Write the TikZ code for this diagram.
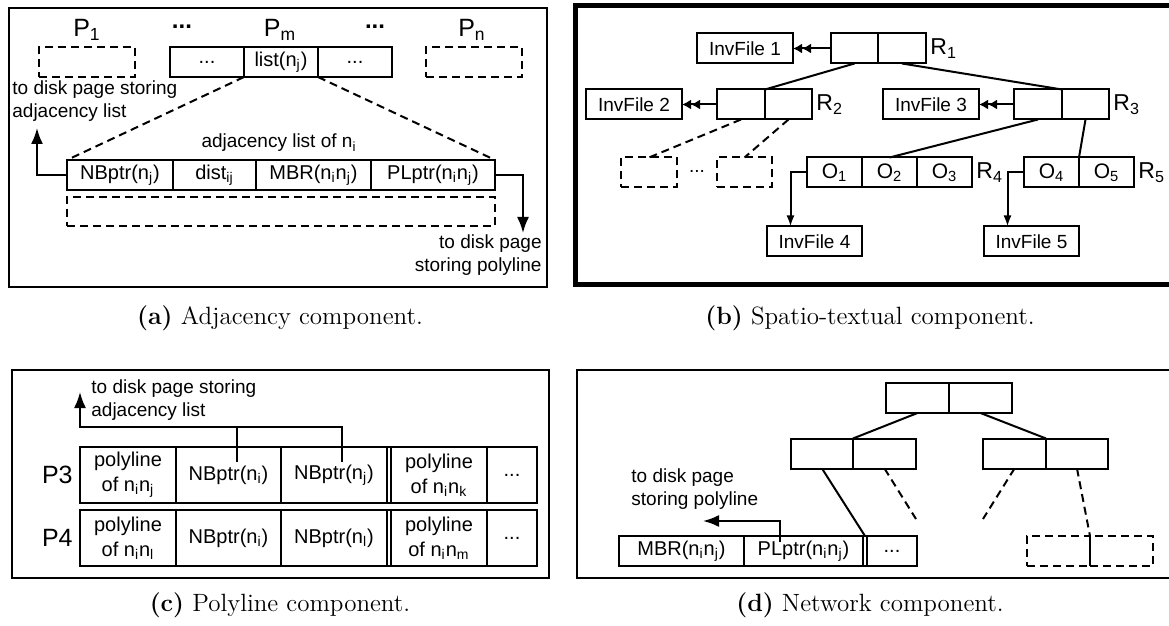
\documentclass[tikz,border=0pt]{standalone}
\usepackage{fontspec}
\setsansfont{Liberation Sans}
\usetikzlibrary{arrows.meta,positioning}

\newcommand{\sbs}[1]{\textsubscript{#1}}

\begin{document}
\begin{tikzpicture}[x=0.5pt, y=-0.5pt,
  panel/.style={draw, line width=1pt},
  cell/.style={draw, line width=1pt, inner sep=0pt, outer sep=0pt, minimum height=15pt,
    align=center, font=\sffamily\fontsize{10}{12.5}\selectfont},
  dcell/.style={cell, dash pattern=on 4pt off 2.5pt},
  tall/.style={minimum height=28pt},
  inv/.style={cell, font=\sffamily\fontsize{9.5}{11}\selectfont},
  ocell/.style={cell, font=\sffamily\fontsize{10.5}{12}\selectfont},
  txt/.style={inner sep=0pt, font=\sffamily\fontsize{9.5}{11.5}\selectfont},
  plbl/.style={inner sep=0pt, font=\sffamily\fontsize{12.5}{14}\selectfont},
  rlbl/.style={inner sep=0pt, font=\sffamily\fontsize{11.5}{13}\selectfont},
  dots/.style={inner sep=0pt, font=\sffamily\bfseries\fontsize{12}{14}\selectfont},
  edge/.style={line width=1pt},
  dsh/.style={line width=1pt, dash pattern=on 4pt off 2.5pt},
  arr/.style={-{Latex[length=8pt,width=6pt]}, line width=1pt},
  sarr/.style={-{Latex[length=5.5pt,width=4pt]}, line width=1pt},
  barr/.style={-{Latex[length=4.5pt,width=5pt]Latex[length=4.5pt,width=5pt]}, line width=1pt},
  capt/.style={inner sep=0pt, font=\rmfamily\fontsize{12.5}{15}\selectfont}
]
\useasboundingbox (0,0) rectangle (1169,626);
\clip (0,0) rectangle (1169,626);

% (a) adjacency component
\draw[panel] (9,8) rectangle (547,287);
\node[plbl] (p1) at (87,30) {P\sbs{1}};
\node[plbl] (pm) at (280,30) {P\sbs{m}};
\node[plbl] (pn) at (472,30) {P\sbs{n}};
\node[dots] (dta) at (182,27) {...};
\node[dots] (dtb) at (375,27) {...};
\node[dcell, minimum width=48pt] (p1box) at (87,62) {};
\node[cell, minimum width=37pt] (pma) at (207,62) {...};
\node[cell, minimum width=37pt, right=0pt of pma] (pmb) {list(n\sbs{j})};
\node[cell, minimum width=37pt, right=0pt of pmb] (pmc) {...};
\node[dcell, minimum width=48pt] (pnbox) at (474,62) {};
\node[txt, anchor=west, align=left] (adjtxt) at (12,101.5) {to disk page storing\\adjacency list};
\node[txt] (adjl) at (279,143) {adjacency list of n\sbs{i}};
\node[cell, minimum width=53pt] (nb) at (120,175) {NBptr(n\sbs{j})};
\node[cell, minimum width=41.5pt, right=0pt of nb] (dist) {dist\sbs{ij}};
\node[cell, minimum width=57.5pt, right=0pt of dist] (mbr) {MBR(n\sbs{i}n\sbs{j})};
\node[cell, minimum width=62pt, right=0pt of mbr] (plp) {PLptr(n\sbs{i}n\sbs{j})};
\node[dcell, minimum width=214pt, minimum height=14.5pt] (more) at (281,211.5) {};
\node[txt, anchor=east, align=right] (plytxt) at (542,255.5) {to disk page\\storing polyline};
\draw[dsh] (pmb.south west) -- (nb.north west);
\draw[dsh] (pmb.south east) -- (plp.north east);
\coordinate (upa) at (37,128);
\coordinate (downa) at (523,233);
\draw[arr] (nb.west) -| (upa);
\draw[arr] (plp.east) -| (downa);

% (b) spatio-textual component
\draw[line width=2.5pt] (575,6) rectangle (1180,285);
\node[cell, minimum width=23.5pt] (r1a) at (854.5,48.5) {};
\node[cell, minimum width=24pt, right=0pt of r1a] (r1b) {};
\node[rlbl, right=2pt of r1b] (r1) {R\sbs{1}};
\node[inv, minimum width=48pt] (inv1) at (745,48.5) {InvFile 1};
\node[cell, minimum width=24pt] (r2a) at (741,104.5) {};
\node[cell, minimum width=23.5pt, right=0pt of r2a] (r2b) {};
\node[rlbl, right=2pt of r2b] (r2) {R\sbs{2}};
\node[inv, minimum width=48pt] (inv2) at (634,104.5) {InvFile 2};
\node[cell, minimum width=24pt] (r3a) at (1038,104.5) {};
\node[cell, minimum width=23.5pt, right=0pt of r3a] (r3b) {};
\node[rlbl, right=2pt of r3b] (r3) {R\sbs{3}};
\node[inv, minimum width=48pt] (inv3) at (931,104.5) {InvFile 3};
\node[dcell, minimum width=28pt] (da) at (649,172.5) {};
\node[dcell, minimum width=27.5pt] (db) at (744.5,172.5) {};
\node[txt] (dtc) at (697,171) {...};
\node[ocell, minimum width=27.5pt] (o1) at (834.5,172.5) {O\sbs{1}};
\node[ocell, minimum width=27.5pt, right=0pt of o1] (o2) {O\sbs{2}};
\node[ocell, minimum width=27.5pt, right=0pt of o2] (o3) {O\sbs{3}};
\node[rlbl, right=2pt of o3] (r4) {R\sbs{4}};
\node[ocell, minimum width=27.5pt] (o4) at (1051.5,172.5) {O\sbs{4}};
\node[ocell, minimum width=27.5pt, right=0pt of o4] (o5) {O\sbs{5}};
\node[rlbl, right=2pt of o5] (r5) {R\sbs{5}};
\node[inv, minimum width=47.5pt] (inv4) at (814.5,241.5) {InvFile 4};
\node[inv, minimum width=47.5pt] (inv5) at (1031.5,241.5) {InvFile 5};
\draw[barr] (r1a.west) -- (inv1.east);
\draw[barr] (r2a.west) -- (inv2.east);
\draw[barr] (r3a.west) -- (inv3.east);
\draw[edge] (r1a.south) -- (r2a.north east);
\draw[edge] (r1b.south) -- (r3a.north east);
\draw[dsh] (r2a.south) -- (da.north);
\draw[dsh] (r2b.south) -- (db.north);
\draw[edge] (r3a.south) -- (o2.north);
\draw[edge] (r3b.south) -- (o4.north east);
\draw[sarr] (o1.west) -| ([xshift=-12pt]inv4.north);
\draw[sarr] (o4.west) -| ([xshift=-12pt]inv5.north);

% (c) polyline component
\draw[panel] (12,370) rectangle (549,578);
\node[cell, tall, minimum width=48pt] (p3a) at (128,475) {polyline\\of n\sbs{i}n\sbs{j}};
\node[cell, tall, minimum width=52.5pt, right=0pt of p3a] (p3b) {NBptr(n\sbs{i})};
\node[cell, tall, minimum width=53pt, right=0pt of p3b] (p3c) {NBptr(n\sbs{j})};
\node[cell, tall, minimum width=2pt, right=0pt of p3c] (p3g) {};
\node[cell, tall, minimum width=48pt, right=0pt of p3g] (p3d) {polyline\\of n\sbs{i}n\sbs{k}};
\node[cell, tall, minimum width=25pt, right=0pt of p3d] (p3e) {...};
\node[plbl, left=3.5pt of p3a] (p3) {P3};
\node[cell, tall, minimum width=48pt] (p4a) at (128,538) {polyline\\of n\sbs{i}n\sbs{l}};
\node[cell, tall, minimum width=52.5pt, right=0pt of p4a] (p4b) {NBptr(n\sbs{i})};
\node[cell, tall, minimum width=53pt, right=0pt of p4b] (p4c) {NBptr(n\sbs{l})};
\node[cell, tall, minimum width=2pt, right=0pt of p4c] (p4g) {};
\node[cell, tall, minimum width=48pt, right=0pt of p4g] (p4d) {polyline\\of n\sbs{i}n\sbs{m}};
\node[cell, tall, minimum width=25pt, right=0pt of p4d] (p4e) {...};
\node[plbl, left=3.5pt of p4a] (p4) {P4};
\node[txt, anchor=west, align=left] (adjtxtc) at (91,400) {to disk page storing\\adjacency list};
\coordinate (bendc) at (80,427);
\coordinate (upc) at (80,392);
\draw[arr] ([xshift=4pt,yshift=-7.5pt]p3c.north) |- (bendc) -- (upc);
\draw[edge] ([xshift=4pt,yshift=-7.5pt]p3b.north) -- ([xshift=4pt]p3b.north |- bendc);

% (d) network component
\draw[panel] (577,370) rectangle (1180,578);
\node[cell, minimum width=31.5pt] (rta) at (917.5,398) {};
\node[cell, minimum width=31.5pt, right=0pt of rta] (rtb) {};
\node[cell, minimum width=31pt] (lca) at (822,453.5) {};
\node[cell, minimum width=31.5pt, right=0pt of lca] (lcb) {};
\node[cell, minimum width=31.5pt] (rca) at (1014.5,453.5) {};
\node[cell, minimum width=31pt, right=0pt of rca] (rcb) {};
\node[cell, minimum width=62.5pt] (lfa) at (681.5,551) {MBR(n\sbs{i}n\sbs{j})};
\node[cell, minimum width=59.5pt, right=0pt of lfa] (lfb) {PLptr(n\sbs{i}n\sbs{j})};
\node[cell, minimum width=2pt, right=0pt of lfb] (lfg) {};
\node[cell, minimum width=25pt, right=0pt of lfg] (lfc) {...};
\node[dcell, minimum width=31.5pt] (dla) at (1058.5,551) {};
\node[dcell, minimum width=31.5pt, right=0pt of dla] (dlb) {};
\node[txt, anchor=west, align=left] (plytxtd) at (631,489) {to disk page\\storing polyline};
\draw[edge] (rta.south) -- (lca.north east);
\draw[edge] (rtb.south) -- (rca.north east);
\draw[edge] (lca.south) -- (lfg.north);
\coordinate (dla1) at (916,519);
\coordinate (dla2) at (983,519);
\draw[dsh] (lcb.south) -- (dla1);
\draw[dsh] (rca.south) -- (dla2);
\draw[dsh] (rcb.south) -- (dla.north east);
\coordinate (leftd) at (703,521);
\draw[arr] ([xshift=-12pt,yshift=-3pt]lfb.north) |- (leftd);

% captions
\node[capt] (capa) at (280,318) {\textbf{(a)} Adjacency component.};
\node[capt] (capb) at (870,318) {\textbf{(b)} Spatio-textual component.};
\node[capt] (capc) at (280,605) {\textbf{(c)} Polyline component.};
\node[capt] (capd) at (870,605) {\textbf{(d)} Network component.};
\end{tikzpicture}
\end{document}
